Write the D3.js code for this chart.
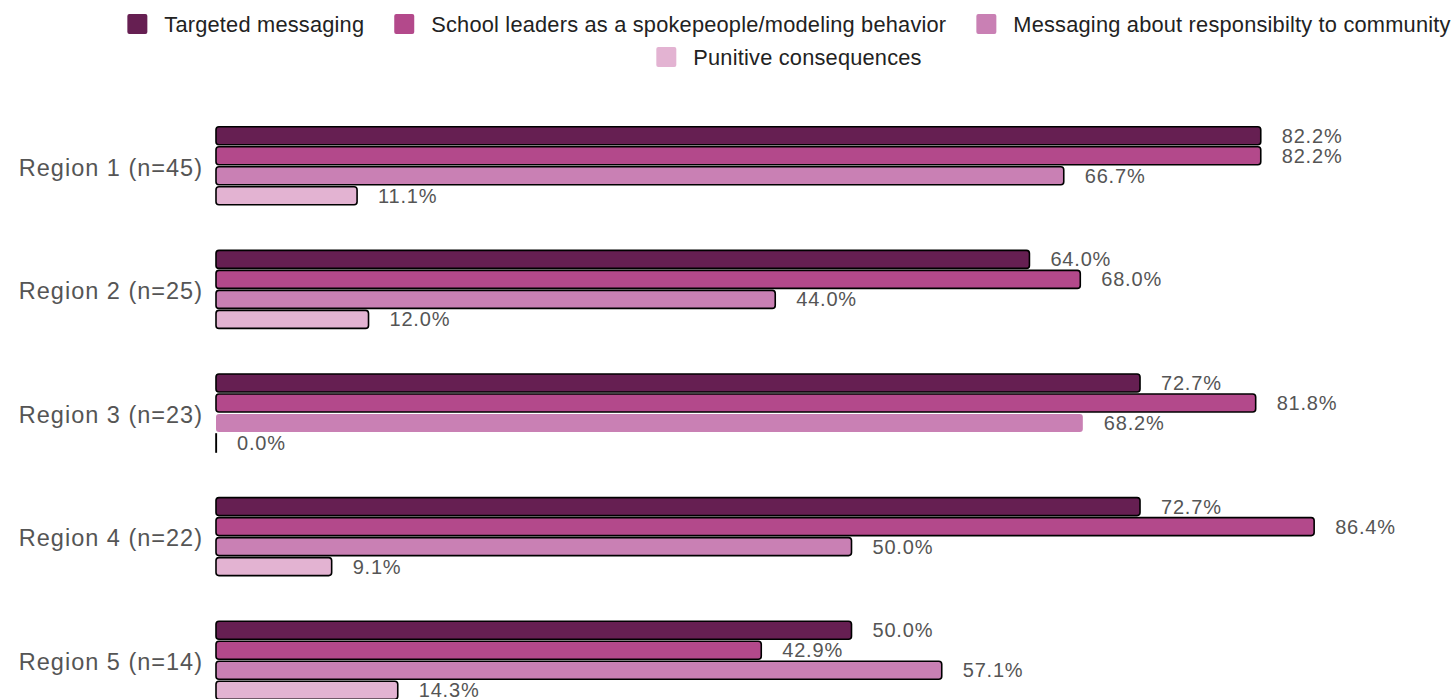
<!DOCTYPE html>
<html>
<head>
<meta charset="utf-8">
<script src="https://cdn.jsdelivr.net/npm/d3@7"></script>
<style>
  html, body { margin: 0; padding: 0; background: #fff; }
  svg { display: block; font-family: "Liberation Sans", Arial, sans-serif; }
</style>
</head>
<body>
<svg id="chart" width="1454" height="699"></svg>
<script>
const regions = ["Region 1 (n=45)", "Region 2 (n=25)", "Region 3 (n=23)", "Region 4 (n=22)", "Region 5 (n=14)"];
const seriesNames = [
  "Targeted messaging",
  "School leaders as a spokepeople/modeling behavior",
  "Messaging about responsibilty to community",
  "Punitive consequences"
];
const targeted   = [82.2, 64.0, 72.7, 72.7, 50.0];
const leaders    = [82.2, 68.0, 81.8, 86.4, 42.9];
const community  = [66.7, 44.0, 68.2, 50.0, 57.1];
const punitive   = [11.1, 12.0, 0.0, 9.1, 14.3];
const colors = ["#661f52", "#b3498b", "#c980b4", "#e3b3d2"];

const seriesValues = [targeted, leaders, community, punitive];
const rows = [];
regions.forEach((r, i) => {
  seriesNames.forEach((s, j) => {
    rows.push({ region: r, series: s, si: j, ri: i, value: seriesValues[j][i] });
  });
});

const svg = d3.select("#chart");

const x = d3.scaleLinear().domain([0, 100]).range([216, 1487]);
const y = d3.scaleBand().domain(regions).range([104, 722]).padding(0);
const sub = d3.scaleBand().domain(seriesNames).range([-40, 40]).padding(0);
const color = d3.scaleOrdinal().domain(seriesNames).range(colors);

// bars (a zero value still shows its outline as a thin line on the baseline)
const barH = 18;
svg.append("g").selectAll("rect")
  .data(rows)
  .join("rect")
  .attr("x", x(0))
  .attr("y", d => y(d.region) + y.bandwidth() / 2 + sub(d.series) + (sub.bandwidth() - barH) / 2)
  .attr("width", d => Math.max(0.3, x(d.value) - x(0)))
  .attr("height", barH)
  .attr("rx", d => d.value > 0 ? 3 : 0)
  .attr("fill", d => color(d.series))
  .attr("stroke", d => (d.ri === 2 && d.si === 2) ? "none" : "#000")
  .attr("stroke-width", 1.6);

// value labels
svg.append("g").selectAll("text")
  .data(rows)
  .join("text")
  .attr("x", d => x(d.value) + 21)
  .attr("y", d => y(d.region) + y.bandwidth() / 2 + sub(d.series) + sub.bandwidth() / 2)
  .attr("dy", "0.35em")
  .attr("font-size", 20)
  .attr("letter-spacing", 0.8)
  .attr("fill", "#555")
  .text(d => d.value.toFixed(1) + "%");

// region axis
const yAxis = svg.append("g")
  .attr("transform", `translate(${x(0)},0)`)
  .call(d3.axisLeft(y).tickSize(0).tickPadding(13));
yAxis.select(".domain").remove();
yAxis.selectAll("text")
  .attr("font-size", 23.5)
  .attr("letter-spacing", 1.0)
  .attr("dy", "0.42em")
  .attr("font-family", "\"Liberation Sans\", Arial, sans-serif")
  .attr("fill", "#555");

// legend
const legendRows = [seriesNames.slice(0, 3), seriesNames.slice(3)];
const legendY = [24, 57];
const legendCenter = 789;
const sw = 20, swGap = 17, itemGap = 30;
const legend = svg.append("g").attr("font-size", 21.8).attr("letter-spacing", 0.2).attr("fill", "#222");
legendRows.forEach((names, ri) => {
  const g = legend.append("g");
  const items = names.map(n => {
    const t = g.append("text").attr("dy", "0.35em").attr("y", legendY[ri]).text(n);
    return { name: n, node: t, w: t.node().getComputedTextLength() };
  });
  const total = d3.sum(items, d => sw + swGap + d.w) + itemGap * (items.length - 1);
  let cx = legendCenter - total / 2;
  items.forEach(it => {
    g.append("rect")
      .attr("x", cx).attr("y", legendY[ri] - sw / 2)
      .attr("width", sw).attr("height", sw).attr("rx", 2)
      .attr("fill", color(it.name));
    it.node.attr("x", cx + sw + swGap);
    cx += sw + swGap + it.w + itemGap;
  });
});
</script>
</body>
</html>
